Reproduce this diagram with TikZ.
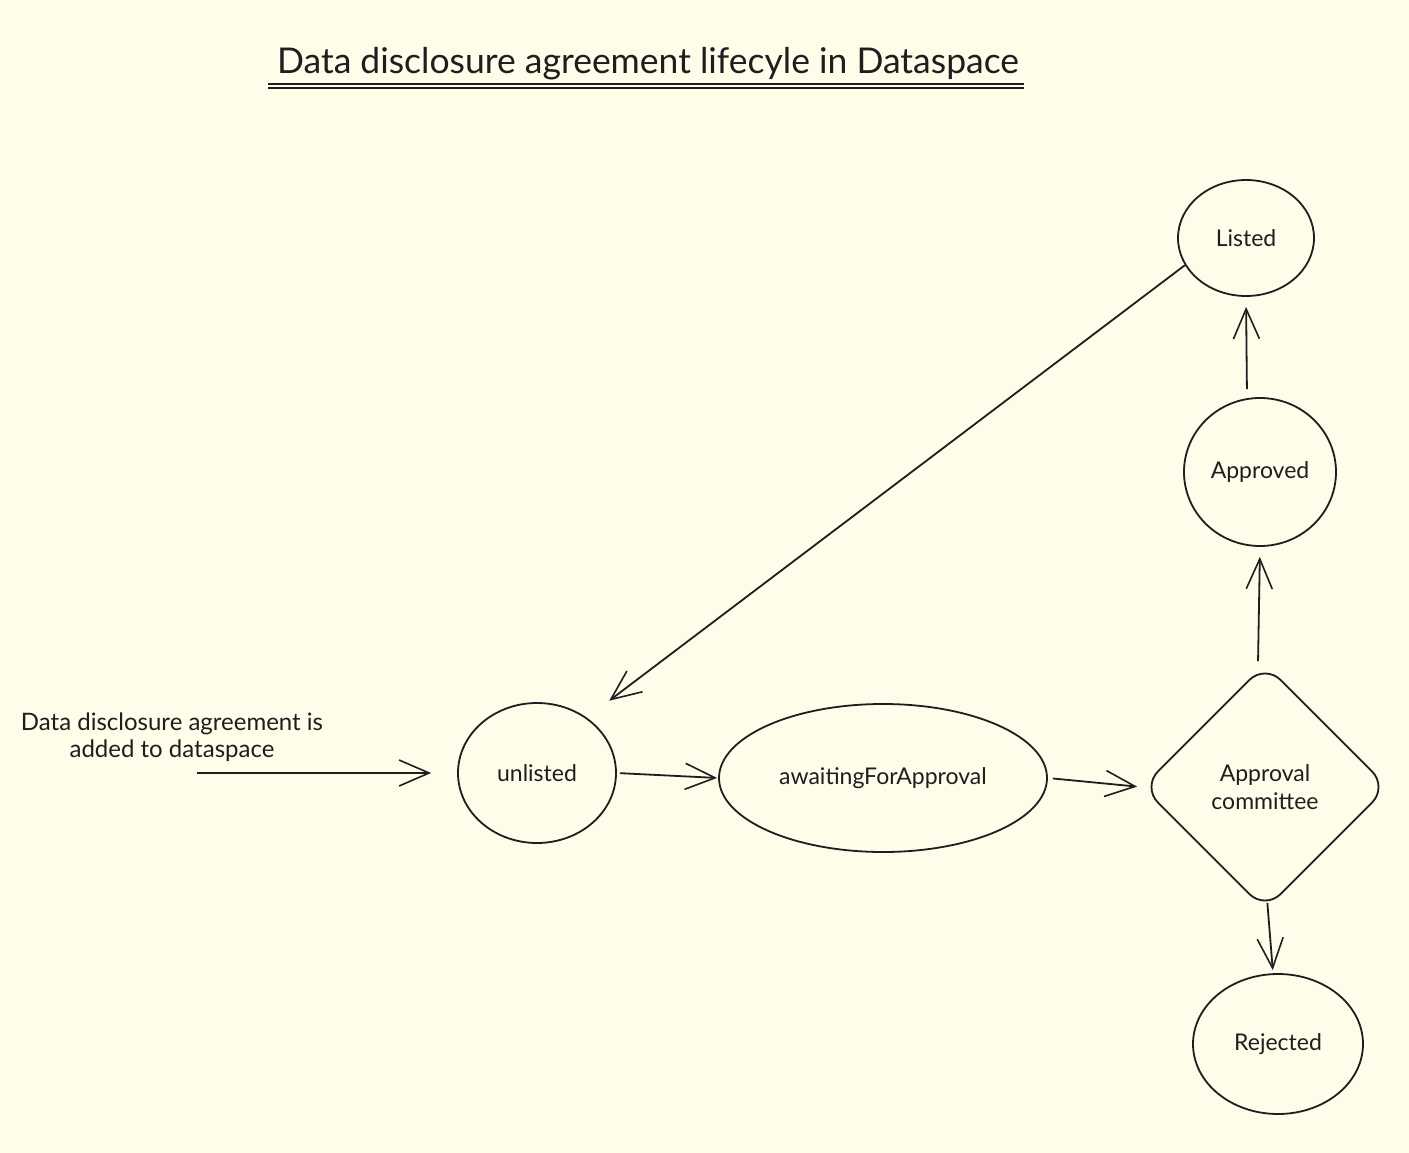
\documentclass[tikz,border=0pt]{standalone}
\usepackage{fontspec}
\setmainfont{Lato}
\usetikzlibrary{shapes.geometric,arrows.meta}
\definecolor{bg}{HTML}{FFFCEA}
\definecolor{ink}{HTML}{1E1E1E}
\tikzset{
  state/.style={ellipse, draw=ink, line width=1.8pt, inner sep=0pt, font=\fontsize{23}{28}\selectfont, text=ink},
  decision/.style={diamond, draw=ink, line width=1.8pt, rounded corners=22pt, inner sep=0pt, font=\fontsize{23}{28}\selectfont, text=ink, align=center},
  flow/.style={draw=ink, line width=1.8pt, -{Straight Barb[length=30pt,width=26pt,line width=1.6pt]}},
  lbl/.style={font=\fontsize{24}{27}\selectfont, text=ink, align=center, inner sep=0pt}
}
\begin{document}
\begin{tikzpicture}[x=1pt,y=-1pt]
\useasboundingbox (0,0) rectangle (1409,1153);
\fill[bg] (0,0) rectangle (1409,1153);
% title
\node[font=\fontsize{35.5}{40}\selectfont, text=ink, inner sep=0pt] (title) at (648,64) {Data disclosure agreement lifecyle in Dataspace};
\coordinate (u1) at (268,84);
\coordinate (u2) at (1024,84);
\draw[ink, line width=1.6pt] (u1) -- (u2);
\draw[ink, line width=1.2pt] ([yshift=-4pt]u1) -- ([yshift=-4pt]u2);
% nodes
\node[state, minimum width=136pt, minimum height=116pt] (listed) at (1246,238) {Listed};
\node[state, minimum width=152pt, minimum height=148pt] (approved) at (1260,472) {Approved};
\node[decision, minimum width=246pt, minimum height=246pt] (committee) at (1265,787) {Approval\\committee};
\node[state, minimum width=170pt, minimum height=140pt] (rejected) at (1278,1044) {Rejected};
\node[state, minimum width=158pt, minimum height=140pt] (unlisted) at (537,773) {unlisted};
\node[state, minimum width=328pt, minimum height=148pt] (awaiting) at (883,778) {awaitingForApproval};
% input
\coordinate (start) at (197,773);
\node[lbl] (inlabel) at (172,737) {Data disclosure agreement is\\added to dataspace};
% connectors
\draw[flow, shorten >=26pt] (start) -- (unlisted.west);
\draw[flow, shorten <=3pt, shorten >=1pt] (unlisted.east) -- (awaiting.west);
\draw[flow, shorten <=5pt, shorten >=4pt] (awaiting.east) -- (committee.west);
\draw[flow, shorten <=2pt, shorten >=10pt] ([xshift=-7pt]committee.north) -- (approved.south);
\draw[flow, shorten <=8pt, shorten >=10pt] ([xshift=-13pt]approved.north) -- (listed.south);
\draw[flow, shorten <=-8pt, shorten >=3pt] ([xshift=3pt]committee.south) -- ([xshift=-5pt]rejected.north);
\draw[flow, shorten >=28pt] (listed.204) -- (unlisted.48);
\end{tikzpicture}
\end{document}
